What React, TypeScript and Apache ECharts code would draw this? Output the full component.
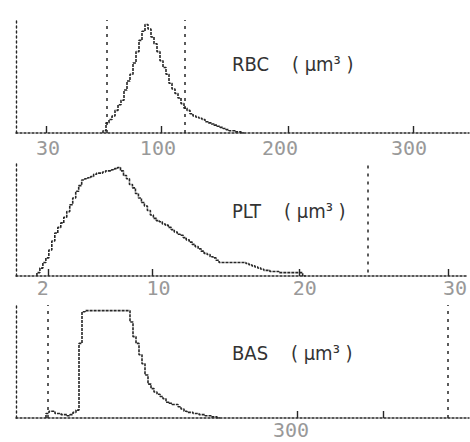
import React, { useEffect, useRef } from "react";
import * as echarts from "echarts";

// Histogram channels (x) vs relative counts (y, 0-100)
const rbcStart = 29;
const rbcCounts = [0, 2, 9, 12, 15, 20, 25, 29, 38, 46, 52, 62, 72, 82, 90, 96, 92, 85, 79, 72, 64, 58, 52, 44, 39, 35, 31, 26, 22, 20, 17, 15, 14, 13, 12, 10, 9, 8, 7, 6, 5, 4, 3, 2, 2, 1, 1, 0];

const pltStart = 7;
const pltCounts = [0, 3, 7, 12, 16, 23, 31, 38, 43, 47, 52, 57, 63, 69, 75, 80, 85, 86, 87, 88, 90, 91, 91, 92, 93, 93, 94, 95, 96, 93, 89, 86, 81, 78, 73, 69, 65, 62, 58, 54, 51, 49, 48, 46, 45, 43, 41, 39, 37, 36, 34, 32, 30, 28, 26, 24, 22, 20, 19, 17, 16, 14, 12, 12, 12, 12, 12, 12, 12, 12, 12, 11, 10, 9, 8, 7, 6, 5, 5, 4, 4, 4, 3, 3, 3, 3, 3, 3, 3, 3, 0];

const basStart = 10;
const basCounts = [0, 4, 6, 6, 4, 4, 3, 3, 2, 3, 5, 7, 66, 94, 95, 95, 95, 95, 95, 95, 95, 95, 95, 95, 95, 95, 95, 95, 95, 85, 72, 66, 56, 48, 38, 30, 26, 23, 21, 19, 17, 14, 13, 12, 12, 10, 8, 6, 5, 5, 4, 4, 3, 3, 2, 2, 1, 1, 0];

// Axis tick marks / labels (in channels)
const rbcTickChannels = [10, 48.3, 90.7, 132.3];
const rbcLabelChannels = [10.7, 47.3, 88, 131];
const rbcTickLabels = ["30", "100", "200", "300"];

const pltTickChannels = [10.7, 45.7, 94.7, 144.7];
const pltLabelChannels = [9, 47.7, 96.7, 147];
const pltTickLabels = ["2", "10", "20", "30"];

const basTickChannels = [93.7, 122.3];
const basLabelChannels = [91.7];
const basTickLabels = ["300"];

// Discriminator (threshold) lines, in channels
const rbcThresholds = [30.3, 56.3];
const pltThresholds = [117.7];
const basThresholds = [10.7, 144];

const titles = ["RBC    ( μm³ )", "PLT    ( μm³ )", "BAS    ( μm³ )"];

const INK = "#262626";

function toData(start: number, counts: number[]) {
  return counts.map((v, i) => [start + i, v]);
}

export default function App() {
  const ref = useRef<HTMLDivElement>(null);
  useEffect(() => {
    if (!ref.current) return;
    const chart = echarts.init(ref.current, undefined, { renderer: "svg" });
    const tops = [20, 163, 305];
    const labelMargins = [5, 2, 2];
    const ticks = [rbcTickChannels, pltTickChannels, basTickChannels];
    const labelPos = [rbcLabelChannels, pltLabelChannels, basLabelChannels];
    const labelTexts = [rbcTickLabels, pltTickLabels, basTickLabels];
    const series = [
      toData(rbcStart, rbcCounts),
      toData(pltStart, pltCounts),
      toData(basStart, basCounts),
    ];
    const thresholds = [rbcThresholds, pltThresholds, basThresholds];

    const option: any = {
      animation: false,
      backgroundColor: "#fff",
      title: titles.map((t, i) => ({
        text: t,
        left: 232,
        top: [54, 201, 343][i],
        padding: 0,
        textStyle: {
          fontFamily: "'DejaVu Sans Condensed', 'Liberation Sans Narrow', 'DejaVu Sans', sans-serif",
          fontSize: 20,
          fontWeight: "normal",
          color: "#333",
        },
      })),
      grid: tops.map((t) => ({ left: 16, top: t, width: 453, height: 113 })),
      xAxis: tops.map((_, i) => ({
        type: "value",
        gridIndex: i,
        min: 0,
        max: 151,
        splitLine: { show: false },
        axisLine: { lineStyle: { color: INK, width: 1.5, type: [2, 2] } },
        axisTick: {
          show: true,
          inside: true,
          length: 7,
          customValues: ticks[i],
          lineStyle: { color: INK, width: 1.4 },
        },
        axisLabel: {
          customValues: labelPos[i],
          margin: labelMargins[i],
          fontFamily: "'DejaVu Sans Mono', monospace",
          fontSize: 20,
          color: "#999",
          formatter: (v: number) => {
            const k = labelPos[i].findIndex((p) => Math.abs(p - v) < 1e-6);
            return k >= 0 ? labelTexts[i][k] : "";
          },
        },
      })),
      yAxis: tops.map((_, i) => ({
        type: "value",
        gridIndex: i,
        min: 0,
        max: 100,
        splitLine: { show: false },
        axisLabel: { show: false },
        axisTick: { show: false },
        axisLine: { show: true, lineStyle: { color: INK, width: 1.4, type: [2, 3] } },
      })),
      series: series.map((d, i) => ({
        type: "line",
        xAxisIndex: i,
        yAxisIndex: i,
        data: d,
        step: "start",
        symbol: "none",
        silent: true,
        lineStyle: { color: INK, width: 1.6, type: [3, 1] },
        markLine: {
          silent: true,
          symbol: "none",
          label: { show: false },
          lineStyle: { color: INK, width: 1.5, type: [3, 5] },
          data: thresholds[i].map((c) =>
            i === 1
              ? [{ coord: [c, 3] }, { coord: [c, 98] }]
              : { xAxis: c }
          ),
        },
      })),
    };
    chart.setOption(option);
    return () => chart.dispose();
  }, []);
  return (
    <div
      ref={ref}
      style={{ position: "fixed", left: 0, top: 0, width: 470, height: 442 }}
    />
  );
}
